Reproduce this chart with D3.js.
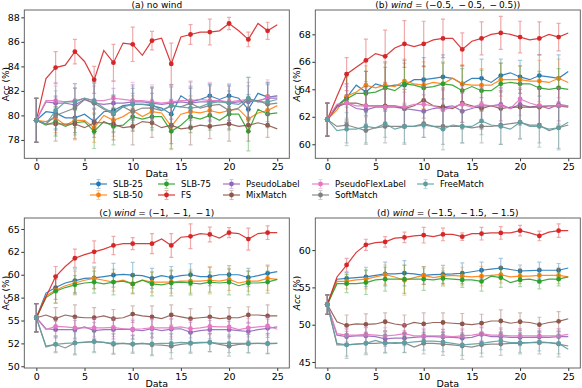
<!DOCTYPE html>
<html>
<head>
<meta charset="utf-8">
<script src="https://cdn.jsdelivr.net/npm/d3@7"></script>
<style>
  body { margin: 0; background: #fff; }
  svg { font-family: "DejaVu Sans", sans-serif; }
</style>
</head>
<body>
<div id="chart"></div>
<script>
// x positions (data size) and where the error bars / markers sit
const xValues = [0,1,2,3,4,5,6,7,8,9,10,11,12,13,14,15,16,17,18,19,20,21,22,23,24,25];
const errXValues = [0,2,4,6,8,10,12,14,16,18,20,22,24];
const xTicks = [0, 5, 10, 15, 20, 25];

const seriesNames = ["SLB-25", "SLB-50", "SLB-75", "FS", "PseudoLabel", "MixMatch", "PseudoFlexLabel", "SoftMatch", "FreeMatch"];
const seriesColors = ["#1f77b4", "#ff7f0e", "#2ca02c", "#d62728", "#9467bd", "#8c564b", "#e377c2", "#7f7f7f", "#5f9ea0"];

// (a) no wind
const aSLB25 = [79.6,80.3,80.2,79.8,79.8,80.1,79.5,80.3,80.4,80.8,80.9,80.9,80.8,80.6,80.1,81.6,81.1,81.3,81.6,81.3,81.6,81.4,80.5,81.8,81.5,81.6];
const aSLB50 = [79.6,79.5,79.8,79.2,79.6,79.6,79.0,80.0,79.6,79.9,80.4,79.9,80.3,80.2,79.1,80.1,80.3,80.2,80.4,80.2,80.4,80.5,79.7,80.2,80.4,80.8];
const aSLB75 = [79.6,79.2,79.5,79.1,79.4,79.5,78.7,79.5,79.1,79.2,79.9,79.7,79.9,79.9,78.7,79.2,79.9,79.7,80.0,79.6,80.1,80.1,78.7,80.5,80.1,80.2];
const aFS = [79.6,83.0,83.9,84.1,85.2,84.4,82.9,85.3,84.3,85.9,85.8,84.9,86.1,86.3,84.2,86.4,86.6,86.8,86.8,86.9,87.5,86.9,86.2,87.5,86.9,87.4];
const aPseudoLabel = [79.6,81.1,81.0,81.0,80.85,81.3,81.0,80.9,81.0,81.0,81.1,81.1,81.0,80.9,81.0,81.1,81.0,81.1,81.1,81.2,81.0,81.1,81.1,81.2,81.4,81.4];
const aMixMatch = [79.6,79.3,79.3,79.3,79.3,79.0,79.4,79.4,79.3,79.0,79.1,79.5,79.4,79.0,79.2,78.9,79.0,79.2,79.1,79.2,79.3,79.1,79.2,79.4,79.2,78.9];
const aPseudoFlex = [79.6,81.2,81.2,81.1,81.2,81.4,81.2,81.2,81.4,81.3,81.2,81.2,81.1,81.0,81.1,81.2,81.2,81.3,81.2,81.2,81.1,81.2,81.3,81.1,81.5,81.5];
const aSoftMatch = [79.6,79.3,80.0,80.3,80.6,81.3,81.0,80.5,80.1,80.7,80.3,80.6,80.6,80.4,80.8,80.7,81.0,80.6,80.8,80.9,80.4,80.6,81.3,81.2,80.9,81.0];
const aFreeMatch = [79.6,79.3,80.4,81.1,81.1,81.4,81.2,80.6,80.2,80.7,80.9,80.9,80.9,80.4,80.8,80.7,80.6,80.7,81.0,81.1,81.0,80.9,81.4,81.1,81.1,81.3];

const aErrSLB25 = [1.8,1.3,1.2,1.0,1.2,1.3,1.0,1.2,1.1,0.9,0.9,1.2,1.0];
const aErrSLB50 = [1.8,1.2,1.6,1.2,1.3,1.2,1.0,1.9,1.3,1.2,1.0,1.0,1.3];
const aErrSLB75 = [1.8,1.2,1.0,1.4,1.5,1.2,1.1,1.4,1.3,1.2,1.2,1.6,1.1];
const aErrFS = [1.8,1.3,1.0,1.1,1.5,1.4,0.75,1.7,0.8,1.05,0.5,0.6,0.7];
const aErrPseudoLabel = [1.8,1.4,1.4,1.4,1.2,1.4,1.3,1.3,1.4,1.5,1.4,1.3,1.3];
const aErrMixMatch = [1.8,1.4,1.2,1.2,1.3,1.5,1.2,1.5,1.4,1.0,1.4,1.3,1.0];
const aErrPseudoFlex = [1.8,1.5,1.4,1.5,1.4,1.5,1.4,1.4,1.5,1.5,1.5,1.4,1.4];
const aErrSoftMatch = [1.8,1.6,1.6,1.6,1.5,1.5,1.6,1.7,1.8,1.6,1.6,1.8,1.7];
const aErrFreeMatch = [1.8,1.6,1.5,1.5,1.5,1.5,1.4,1.6,1.7,1.5,1.4,1.7,1.6];

// (b) wind = (-0.5, -0.5, -0.5)
const bSLB25 = [61.8,62.8,63.4,64.3,63.8,64.4,64.2,64.3,64.3,64.7,64.7,64.8,64.9,64.8,64.4,64.8,64.8,64.5,65.0,65.2,64.9,64.7,65.0,64.9,64.8,65.3];
const bSLB50 = [61.8,62.5,63.5,63.8,64.3,64.1,64.3,64.2,64.6,64.4,64.3,64.5,64.4,64.8,64.4,64.3,64.3,64.3,64.7,64.7,64.7,64.6,64.6,64.5,64.8,64.5];
const bSLB75 = [61.8,62.8,63.3,63.7,63.7,63.8,64.1,63.9,64.4,64.3,64.1,64.2,64.4,64.3,63.9,64.2,63.9,63.9,64.4,64.5,64.4,64.4,64.1,64.0,64.1,64.0];
const bFS = [61.8,63.5,65.1,65.6,66.1,66.6,66.4,67.0,67.3,67.1,67.3,67.6,67.7,67.7,66.9,67.5,67.7,68.0,68.1,68.0,67.8,67.6,67.7,68.0,67.8,68.1];
const bPseudoLabel = [61.8,62.7,63.0,62.6,62.5,62.7,62.7,62.7,62.6,62.5,62.4,62.6,62.7,62.8,62.4,62.6,62.8,62.8,62.9,62.6,62.9,62.7,62.8,62.6,62.9,62.8];
const bMixMatch = [61.8,62.8,63.0,63.0,62.8,62.8,62.8,62.8,62.6,62.8,63.2,62.8,62.7,62.6,63.0,62.8,62.6,62.8,62.6,62.7,62.7,62.7,62.7,62.8,62.8,62.7];
const bPseudoFlex = [61.8,62.9,63.0,62.8,62.8,62.8,62.7,62.8,62.7,62.9,62.9,62.8,62.5,62.7,62.9,62.7,62.9,62.8,62.8,62.6,63.3,63.0,62.8,62.8,62.8,62.8];
const bSoftMatch = [61.8,61.3,61.4,61.2,61.0,61.2,61.3,61.3,61.3,61.3,61.5,61.3,61.3,61.3,61.3,61.2,61.3,61.3,61.4,61.5,61.6,61.4,61.4,61.0,61.2,61.4];
const bFreeMatch = [61.8,61.0,61.1,61.1,61.3,61.2,61.5,61.1,61.3,61.3,61.4,61.3,61.1,61.4,61.3,61.3,61.7,61.4,61.3,61.1,61.6,61.3,61.3,61.1,61.2,61.6];

const bErrSLB25 = [1.2,1.8,1.5,1.8,1.8,1.6,1.6,1.3,1.4,1.2,1.2,1.5,1.7];
const bErrSLB50 = [1.2,1.6,1.4,1.6,1.6,1.7,1.6,1.4,1.2,1.2,1.0,1.5,1.4];
const bErrSLB75 = [1.2,1.6,1.6,1.5,1.5,1.6,1.5,1.6,1.5,1.5,1.3,1.2,1.4];
const bErrFS = [1.2,1.2,1.55,1.9,1.7,1.65,1.4,1.2,1.2,1.2,1.15,1.2,1.0];
const bErrPseudoLabel = [1.2,1.2,1.3,1.3,1.2,1.2,1.3,1.3,1.2,1.2,1.2,1.3,1.2];
const bErrMixMatch = [1.2,1.4,1.4,1.3,1.4,1.3,1.4,1.4,1.5,1.3,1.3,1.4,1.4];
const bErrPseudoFlex = [1.2,1.4,1.3,1.4,1.3,1.3,1.4,1.3,1.3,1.3,1.2,1.3,1.3];
const bErrSoftMatch = [1.2,1.3,1.0,1.2,1.3,1.0,1.3,1.2,1.2,1.4,1.2,1.3,1.5];
const bErrFreeMatch = [1.2,1.2,1.2,1.0,1.2,0.9,1.5,1.2,1.0,1.3,1.2,1.5,1.6];

// (c) wind = (-1, -1, -1)
const cSLB25 = [55.3,58.0,58.6,59.1,59.35,59.6,59.65,59.8,59.95,60.05,59.95,59.9,59.6,59.9,59.7,59.9,60.0,59.8,59.8,60.0,60.0,60.0,59.7,59.9,60.15,60.35];
const cSLB50 = [55.3,57.7,58.3,58.8,59.1,59.4,59.6,59.4,59.2,59.4,59.0,59.4,59.2,59.2,59.2,59.3,59.3,59.3,59.4,59.3,59.5,59.1,59.3,59.3,59.6,59.5];
const cSLB75 = [55.3,57.5,58.2,58.6,58.9,59.1,59.2,59.0,59.2,59.3,59.0,59.4,59.0,58.9,59.1,59.2,59.1,59.0,59.2,59.1,59.2,58.8,59.1,59.1,59.2,59.5];
const cFS = [55.3,57.6,59.8,60.9,61.8,62.2,62.5,62.8,63.2,63.4,63.4,63.4,63.4,63.9,63.2,64.1,64.2,64.5,64.4,64.0,64.6,64.5,63.9,64.5,64.6,64.6];
const cPseudoLabel = [55.3,54.1,54.0,54.0,54.0,54.3,53.9,54.0,54.0,54.05,54.0,53.9,54.1,53.9,54.05,54.1,53.7,53.9,54.0,54.0,54.0,53.9,53.8,54.0,54.15,54.3];
const cMixMatch = [55.3,55.6,55.2,55.6,55.4,55.3,55.3,55.5,55.2,55.3,55.7,55.5,55.4,55.2,55.6,55.4,55.2,55.3,55.4,55.2,55.3,55.3,55.6,55.6,55.5,55.5];
const cPseudoFlex = [55.3,54.0,54.35,54.3,54.2,54.2,54.2,54.2,54.25,54.1,54.05,54.1,54.2,54.2,54.2,54.3,54.1,54.2,54.35,54.3,54.3,54.0,54.2,54.3,54.4,54.05];
const cSoftMatch = [55.3,52.2,52.4,52.0,52.55,52.6,52.7,52.6,52.4,52.5,52.4,52.5,52.35,52.3,52.2,52.4,52.5,52.55,52.6,52.4,52.2,52.4,52.45,52.5,52.5,52.5];
const cFreeMatch = [55.3,52.1,52.4,52.5,52.55,52.65,52.7,52.6,52.5,52.5,52.45,52.5,52.45,52.5,52.5,52.6,52.55,52.6,52.6,52.5,52.5,52.5,52.5,52.5,52.45,52.5];

const cErrSLB25 = [1.55,1.3,1.3,1.2,1.3,1.4,1.1,1.2,1.2,1.0,1.0,1.0,0.9];
const cErrSLB50 = [1.55,1.4,1.3,1.1,1.0,1.1,1.1,1.2,1.3,1.5,1.2,1.1,1.3];
const cErrSLB75 = [1.55,1.3,1.0,1.2,1.4,1.0,1.3,1.4,1.3,1.1,1.4,1.3,1.2];
const cErrFS = [1.55,1.1,1.0,1.2,1.0,0.65,1.1,1.3,1.35,0.8,0.55,1.2,0.75];
const cErrPseudoLabel = [1.55,0.9,1.0,0.9,1.0,1.0,1.0,1.1,1.1,1.0,0.9,1.0,1.0];
const cErrMixMatch = [1.55,1.2,1.3,1.1,1.0,0.9,1.2,1.1,1.1,1.1,1.1,0.9,1.2];
const cErrPseudoFlex = [1.55,1.0,1.1,1.0,1.0,1.1,1.0,1.0,1.0,0.9,1.0,1.0,1.0];
const cErrSoftMatch = [1.55,0.9,1.3,1.1,1.1,1.0,1.2,1.4,1.1,1.0,1.1,1.0,1.1];
const cErrFreeMatch = [1.55,0.8,1.2,1.2,1.1,0.9,1.2,1.0,1.0,1.0,1.0,1.0,1.1];

// (d) wind = (-1.5, -1.5, -1.5)
const dSLB25 = [52.7,56.1,56.2,56.3,56.4,56.6,56.8,56.8,56.9,56.8,56.6,56.7,56.75,56.8,56.9,57.1,57.3,57.45,57.6,57.4,57.2,57.25,57.3,57.3,57.3,57.6];
const dSLB50 = [52.7,55.8,55.8,56.0,56.1,56.4,56.7,56.4,55.95,56.3,56.6,56.3,56.5,56.6,56.5,56.4,56.5,56.6,56.7,56.4,56.5,56.5,56.6,56.6,56.6,56.4];
const dSLB75 = [52.7,55.5,55.5,55.5,55.65,56.0,56.1,56.1,56.1,56.1,56.1,56.0,56.2,56.1,56.0,56.0,55.8,56.5,56.3,55.65,56.0,56.1,55.8,56.1,56.1,56.4];
const dFS = [52.7,56.4,58.0,59.7,60.7,61.0,61.1,61.6,61.7,61.9,62.0,61.8,62.1,62.1,61.8,62.2,62.2,62.3,62.3,62.3,62.6,62.3,61.9,62.4,62.6,62.6];
const dPseudoLabel = [52.7,48.6,48.4,48.5,48.5,48.4,48.1,48.2,48.2,48.3,48.4,48.4,48.35,48.3,48.2,48.3,48.7,48.4,48.4,48.3,48.3,48.3,48.35,48.3,48.4,48.4];
const dMixMatch = [52.7,50.4,49.9,50.1,50.05,50.1,50.4,50.1,49.9,50.3,50.1,50.3,50.3,50.2,50.1,50.0,50.2,50.5,50.5,50.2,50.4,50.3,50.0,50.3,50.45,50.8];
const dPseudoFlex = [52.7,48.8,48.6,48.6,48.7,48.6,48.5,48.6,48.8,48.5,48.5,48.5,48.5,48.4,48.5,48.6,48.8,48.6,48.6,48.5,48.5,48.5,48.5,48.5,48.5,48.7];
const dSoftMatch = [52.7,47.3,47.3,47.4,47.5,47.5,47.6,47.5,47.6,47.0,47.5,47.5,47.4,47.3,47.15,47.0,47.3,47.4,47.4,47.5,47.5,47.6,47.6,47.6,47.4,47.15];
const dFreeMatch = [52.7,47.5,47.3,47.4,47.5,47.9,47.5,47.6,47.55,47.7,47.8,47.8,47.7,47.5,47.3,47.4,47.5,47.7,47.85,47.6,47.6,47.6,47.7,47.6,47.5,46.7];

const dErrSLB25 = [1.3,0.8,1.3,1.6,1.7,1.2,1.2,1.4,1.1,1.3,0.8,1.1,0.9];
const dErrSLB50 = [1.3,1.0,1.3,1.3,2.0,1.2,1.1,1.2,1.3,1.1,1.0,1.0,1.1];
const dErrSLB75 = [1.3,1.2,1.6,1.6,1.9,1.5,1.0,1.0,1.3,1.3,0.9,1.0,0.9];
const dErrFS = [1.3,0.9,0.75,0.7,0.7,1.05,0.85,0.5,0.85,0.85,0.7,0.65,0.9];
const dErrPseudoLabel = [1.3,1.0,1.1,1.0,1.0,0.9,1.0,1.1,0.9,1.0,1.1,0.9,1.0];
const dErrMixMatch = [1.3,1.4,1.4,1.2,1.4,1.5,1.3,1.4,1.2,1.5,1.2,1.0,1.3];
const dErrPseudoFlex = [1.3,0.9,1.0,1.1,1.2,1.0,0.9,1.0,1.0,1.0,1.0,1.0,1.0];
const dErrSoftMatch = [1.3,1.8,1.5,1.4,1.3,1.4,1.5,1.8,1.6,1.5,1.4,1.5,1.7];
const dErrFreeMatch = [1.3,1.5,1.3,1.2,1.3,1.2,1.3,1.4,1.3,1.2,1.3,1.2,1.4];

// y ticks per panel
const aYTicks = [78, 80, 82, 84, 86, 88];
const bYTicks = [60, 62, 64, 66, 68];
const cYTicks = [50, 52.5, 55, 57.5, 60, 62.5, 65];
const cYTickLabels = ["50", "52", "55", "58", "60", "62", "65"];
const dYTicks = [45, 50, 55, 60];

const width = 582;
const height = 388;

const svg = d3.select("#chart")
  .append("svg")
  .attr("width", width)
  .attr("height", height);

const panels = [
  { label: "(a) ", wind: null, tail: "no wind", italicY: false,
    box: { left: 24.3, right: 289.3, top: 10, bottom: 158.3 },
    yDomain: [76.5, 88.6], yTicks: aYTicks, yLabels: aYTicks.map(String),
    values: [aSLB25, aSLB50, aSLB75, aFS, aPseudoLabel, aMixMatch, aPseudoFlex, aSoftMatch, aFreeMatch],
    errors: [aErrSLB25, aErrSLB50, aErrSLB75, aErrFS, aErrPseudoLabel, aErrMixMatch, aErrPseudoFlex, aErrSoftMatch, aErrFreeMatch] },
  { label: "(b) ", wind: "wind", tail: " = (\u22120.5, \u2009\u2212\u20090.5, \u2009\u2212\u20090.5))", italicY: true,
    box: { left: 315.3, right: 580.3, top: 10, bottom: 158.3 },
    yDomain: [58.98, 69.77], yTicks: bYTicks, yLabels: bYTicks.map(String),
    values: [bSLB25, bSLB50, bSLB75, bFS, bPseudoLabel, bMixMatch, bPseudoFlex, bSoftMatch, bFreeMatch],
    errors: [bErrSLB25, bErrSLB50, bErrSLB75, bErrFS, bErrPseudoLabel, bErrMixMatch, bErrPseudoFlex, bErrSoftMatch, bErrFreeMatch] },
  { label: "(c) ", wind: "wind", tail: " = (\u22121, \u2009\u2212\u20091, \u2009\u2212\u20091)", italicY: false,
    box: { left: 24.3, right: 289.3, top: 218, bottom: 368 },
    yDomain: [49.81, 66.2], yTicks: cYTicks, yLabels: cYTickLabels,
    values: [cSLB25, cSLB50, cSLB75, cFS, cPseudoLabel, cMixMatch, cPseudoFlex, cSoftMatch, cFreeMatch],
    errors: [cErrSLB25, cErrSLB50, cErrSLB75, cErrFS, cErrPseudoLabel, cErrMixMatch, cErrPseudoFlex, cErrSoftMatch, cErrFreeMatch] },
  { label: "(d) ", wind: "wind", tail: " = (\u22121.5, \u2009\u2212\u20091.5, \u2009\u2212\u20091.5)", italicY: true,
    box: { left: 315.3, right: 580.3, top: 218, bottom: 368 },
    yDomain: [44.2, 64.3], yTicks: dYTicks, yLabels: dYTicks.map(String),
    values: [dSLB25, dSLB50, dSLB75, dFS, dPseudoLabel, dMixMatch, dPseudoFlex, dSoftMatch, dFreeMatch],
    errors: [dErrSLB25, dErrSLB50, dErrSLB75, dErrFS, dErrPseudoLabel, dErrMixMatch, dErrPseudoFlex, dErrSoftMatch, dErrFreeMatch] }
];

const capHalf = 2;

panels.forEach(p => {
  const b = p.box;
  const x = d3.scaleLinear().domain([-1.25, 26.25]).range([b.left, b.right]);
  const y = d3.scaleLinear().domain(p.yDomain).range([b.bottom, b.top]);
  const g = svg.append("g");

  // axes
  const yAxis = g.append("g")
    .attr("transform", `translate(${b.left},0)`)
    .call(d3.axisLeft(y).tickValues(p.yTicks).tickSize(3).tickPadding(1.5)
      .tickFormat((d, i) => p.yLabels[i]));
  const xAxis = g.append("g")
    .attr("transform", `translate(0,${b.bottom})`)
    .call(d3.axisBottom(x).tickValues(xTicks).tickSize(3).tickPadding(2));
  [xAxis, yAxis].forEach(a => {
    a.select(".domain").remove();
    a.selectAll("text").attr("font-size", 9.5).attr("fill", "#000").attr("font-family", "DejaVu Sans");
    a.selectAll("line").attr("stroke", "#000").attr("stroke-width", 0.8);
  });

  // series
  p.values.forEach((vals, si) => {
    const color = seriesColors[si];
    const errs = p.errors[si];
    const sg = g.append("g");

    sg.selectAll(".err")
      .data(errXValues)
      .enter()
      .append("path")
      .attr("d", (xv, k) => {
        const cx = x(xv);
        const v = vals[xv];
        const y0 = y(v - errs[k]);
        const y1 = y(v + errs[k]);
        return `M${cx},${y0}V${y1}M${cx - capHalf},${y0}H${cx + capHalf}M${cx - capHalf},${y1}H${cx + capHalf}`;
      })
      .attr("stroke", color)
      .attr("stroke-width", 1.2)
      .attr("stroke-opacity", 0.4)
      .attr("fill", "none");

    const line = d3.line().x(d => x(d)).y(d => y(vals[d]));
    sg.append("path")
      .datum(xValues)
      .attr("d", line)
      .attr("fill", "none")
      .attr("stroke", color)
      .attr("stroke-width", 1.2)
      .attr("stroke-opacity", 0.9);

    sg.selectAll("circle")
      .data(errXValues)
      .enter()
      .append("circle")
      .attr("cx", d => x(d))
      .attr("cy", d => y(vals[d]))
      .attr("r", 2.4)
      .attr("fill", color);
  });

  // frame
  g.append("rect")
    .attr("x", b.left).attr("y", b.top)
    .attr("width", b.right - b.left).attr("height", b.bottom - b.top)
    .attr("fill", "none").attr("stroke", "#555").attr("stroke-width", 0.9);

  // title
  const title = g.append("text")
    .attr("x", (b.left + b.right) / 2)
    .attr("y", b.top - 2)
    .attr("text-anchor", "middle")
    .attr("font-size", 9);
  title.append("tspan").text(p.label);
  if (p.wind) title.append("tspan").attr("font-style", "italic").text(p.wind);
  title.append("tspan").text(p.tail);

  // axis labels
  g.append("text")
    .attr("x", (b.left + b.right) / 2)
    .attr("y", b.bottom + 19)
    .attr("text-anchor", "middle")
    .attr("font-size", 9.5)
    .text("Data");
  const yl = g.append("text")
    .attr("transform", `translate(${b.left - 15.5},${(b.top + b.bottom) / 2}) rotate(-90)`)
    .attr("text-anchor", "middle")
    .attr("font-size", 9);
  yl.append("tspan").attr("font-style", p.italicY ? "italic" : "normal").text("Acc");
  yl.append("tspan").text(" (%)");
});

// legend
const legendHandleX = [90, 158, 223, 312, 417];
const legendRowY = [184, 195];
const legend = svg.append("g");
seriesNames.forEach((name, i) => {
  const col = Math.floor(i / 2);
  const row = i % 2;
  const hx = legendHandleX[col];
  const hy = legendRowY[row];
  const color = seriesColors[i];
  const lg = legend.append("g");
  lg.append("path")
    .attr("d", `M${hx + 8.5},${hy - 4.5}V${hy + 4.5}M${hx + 6.5},${hy - 4.5}H${hx + 10.5}M${hx + 6.5},${hy + 4.5}H${hx + 10.5}`)
    .attr("stroke", color).attr("stroke-opacity", 0.4).attr("stroke-width", 1.2).attr("fill", "none");
  lg.append("line")
    .attr("x1", hx).attr("x2", hx + 17).attr("y1", hy).attr("y2", hy)
    .attr("stroke", color).attr("stroke-width", 1.2).attr("stroke-opacity", 0.9);
  lg.append("circle").attr("cx", hx + 8.5).attr("cy", hy).attr("r", 2.4).attr("fill", color);
  lg.append("text")
    .attr("x", hx + 23).attr("y", hy + 3.2)
    .attr("font-size", 8.5)
    .text(name);
});
</script>
</body>
</html>
